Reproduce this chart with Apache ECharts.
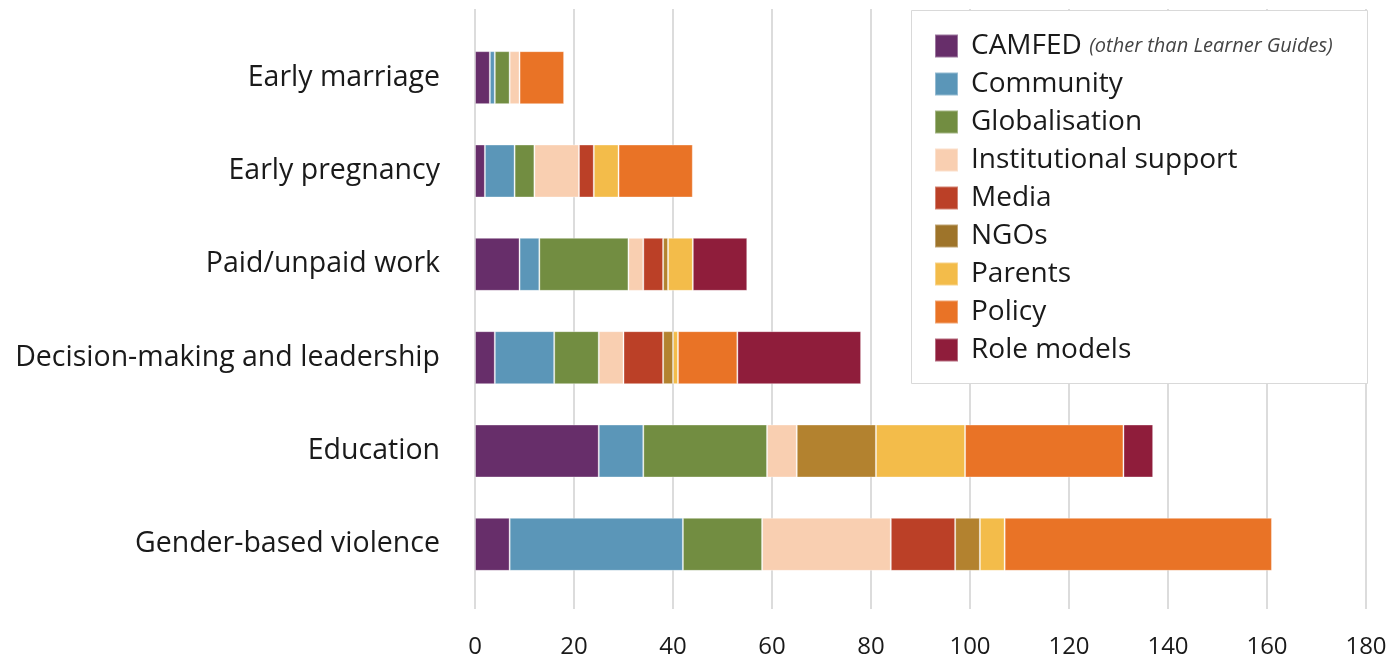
<!DOCTYPE html>
<html>
<head>
<meta charset="utf-8">
<script src="https://cdn.jsdelivr.net/npm/echarts@6/dist/echarts.min.js"></script>
<style>
html,body{margin:0;padding:0;background:#fff;}
#chart{width:1400px;height:659px;}
</style>
</head>
<body>
<div id="chart"></div>
<script>
const categories = ['Early marriage','Early pregnancy','Paid/unpaid work','Decision-making and leadership','Education','Gender-based violence'];
const seriesNames = ['CAMFED','Community','Globalisation','Institutional support','Media','NGOs','Parents','Policy','Role models'];
const camfed        = [3, 2, 9, 4, 25, 7];
const community     = [1, 6, 4, 12, 9, 35];
const globalisation = [3, 4, 18, 9, 25, 16];
const institutional = [2, 9, 3, 5, 6, 26];
const media         = [0, 3, 4, 8, 0, 13];
const ngos          = [0, 0, 1, 2, 16, 5];
const parents       = [0, 5, 5, 1, 18, 5];
const policy        = [9, 15, 0, 12, 32, 54];
const roleModels    = [0, 0, 11, 25, 6, 0];
const xTicks = [0, 20, 40, 60, 80, 100, 120, 140, 160, 180];

const values = [camfed, community, globalisation, institutional, media, ngos, parents, policy, roleModels];
const colors = ['#672e6a','#5b96b8','#728d41','#f9cfb1','#bb4027','#b3822f','#f3bc4a','#e97326','#8f1d3b'];
const legendColors = ['#672e6a','#5b96b8','#728d41','#f9cfb1','#bb4027','#9e742a','#f3bc4a','#e97326','#8f1d3b'];

const FONT = 'Open Sans';
const chart = echarts.init(document.getElementById('chart'), null, {renderer:'canvas'});

const series = seriesNames.map((n, i) => ({
  name: n,
  type: 'bar',
  stack: 'total',
  xAxisIndex: 0,
  yAxisIndex: 0,
  barWidth: 53,
  itemStyle: {color: colors[i], borderColor: 'rgba(255,255,255,0.35)', borderWidth: 1},
  emphasis: {disabled: true},
  data: values[i].map(v => v === 0 ? null : v)
}));

chart.setOption({
  animation: false,
  backgroundColor: '#fff',
  textStyle: {fontFamily: FONT},
  grid: [
    {left: 475, width: 891, top: 31, height: 560},
    {left: 475, width: 891, top: 9, height: 601}
  ],
  xAxis: [
    {gridIndex: 0, type: 'value', min: 0, max: 180, interval: 20, show: false},
    {gridIndex: 1, type: 'value', min: 0, max: 180, interval: 20,
     axisLine: {show: false}, axisTick: {show: false},
     splitLine: {show: true, lineStyle: {color: '#dcdcdc', width: 2}},
     axisLabel: {fontFamily: FONT, fontSize: 24, color: '#1a1a1a', margin: 26,
       formatter: v => String(xTicks[xTicks.indexOf(v)])}}
  ],
  yAxis: [
    {gridIndex: 0, type: 'category', data: categories, inverse: true,
     axisLine: {show: false}, axisTick: {show: false},
     axisLabel: {fontFamily: FONT, fontSize: 28.5, color: '#1a1a1a', margin: 35, padding: [6,0,0,0]}},
    {gridIndex: 1, type: 'value', show: false}
  ],
  graphic: [{
    type: 'rect', left: 911, top: 10, z: 5,
    shape: {width: 456, height: 373},
    style: {fill: '#fff', stroke: '#d9d9d9', lineWidth: 1}
  }],
  legend: {
    orient: 'vertical', left: 934, top: 32, padding: 0, z: 10,
    itemWidth: 23, itemHeight: 23, itemGap: 10,
    icon: 'rect', selectedMode: false,
    data: seriesNames.map((n, i) => ({name: n, itemStyle: {color: legendColors[i]}})),
    formatter: n => n === 'CAMFED' ? '{a|CAMFED} {b|(other than Learner Guides)}' : n,
    textStyle: {fontFamily: FONT, fontSize: 28, color: '#1a1a1a', padding: [0,0,0,8],
      rich: {
        a: {fontFamily: FONT, fontSize: 28, color: '#1a1a1a'},
        b: {fontFamily: FONT, fontSize: 20, fontStyle: 'italic', color: '#444'}
      }}
  },
  series: series
});
</script>
</body>
</html>
